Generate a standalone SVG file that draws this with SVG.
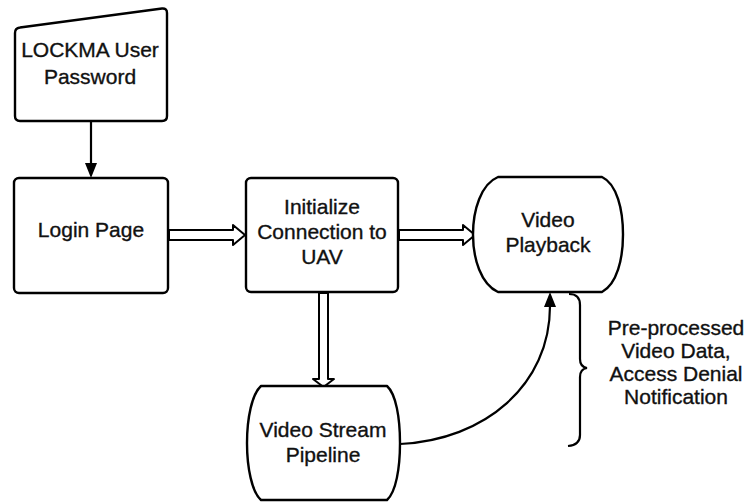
<svg xmlns="http://www.w3.org/2000/svg" width="748" height="502" viewBox="0 0 748 502">
<style>
.n{fill:#fff;stroke:#000;stroke-width:2.4;stroke-linejoin:round}
.t{font-family:"Liberation Sans",Arial,sans-serif;font-size:21px;fill:#111;stroke:#111;stroke-width:0.35;text-anchor:middle}
.c{fill:none;stroke:#000;stroke-width:2.2}
.h{fill:#fff;stroke:#000;stroke-width:2;stroke-linejoin:round}
</style>
<rect width="748" height="502" fill="#fff"/>
<g id="connectors">
<line class="c" x1="91" y1="121" x2="91" y2="163"/>
<path d="M85,163 L91,178 L97,163 Z" fill="#000"/>
<polygon class="h" points="169,230 233,230 233,225 245,235 233,245 233,240 169,240"/>
<polygon class="h" points="399,230 463,230 463,225 475,235 463,245 463,240 399,240"/>
<polygon class="h" points="319,293 319,379 313,379 323.5,387 334,379 328,379 328,293"/>
<path class="c" d="M400,444 C485,440 550,385 550,306"/>
<path d="M544,307 L550,292 L556,307 Z" fill="#000"/>
<path class="c" d="M569,294 Q580,294 580,305 L580,359 Q580,367 587,368 Q580,369 580,377 L580,435 Q580,445 568,446"/>
</g>
<g id="user-password">
<path class="n" d="M20,27.5 L162,8.5 Q167,8 167,13 L167,116 Q167,121 162,121 L20,121 Q15,121 15,116 L15,33 Q15,28 20,27.5 Z"/>
<text class="t" x="90" y="57">LOCKMA User</text>
<text class="t" x="90" y="84">Password</text>
</g>
<g id="login-page">
<rect class="n" x="14" y="178" width="154" height="115" rx="5"/>
<text class="t" x="91" y="237">Login Page</text>
</g>
<g id="initialize">
<rect class="n" x="246" y="178" width="152" height="114" rx="5"/>
<text class="t" x="322" y="214">Initialize</text>
<text class="t" x="322" y="239">Connection to</text>
<text class="t" x="322" y="264">UAV</text>
</g>
<g id="video-playback">
<path class="n" d="M498,177 H602 C617,184 623,210 623,234.5 C623,259 617,284 602,292 H498 C481,284 473,259 473,234.5 C473,210 481,184 498,177 Z"/>
<text class="t" x="548" y="227">Video</text>
<text class="t" x="548" y="252">Playback</text>
</g>
<g id="video-stream-pipeline">
<path class="n" d="M261,386 H387 C396,394 400,418 400,443 C400,468 396,492 387,500 H261 C252,492 247,468 247,443 C247,418 252,394 261,386 Z"/>
<text class="t" x="323" y="437">Video Stream</text>
<text class="t" x="323" y="462">Pipeline</text>
</g>
<g id="annotation">
<text class="t" x="676" y="335">Pre-processed</text>
<text class="t" x="676" y="358">Video Data,</text>
<text class="t" x="676" y="381">Access Denial</text>
<text class="t" x="676" y="404">Notification</text>
</g>
</svg>
